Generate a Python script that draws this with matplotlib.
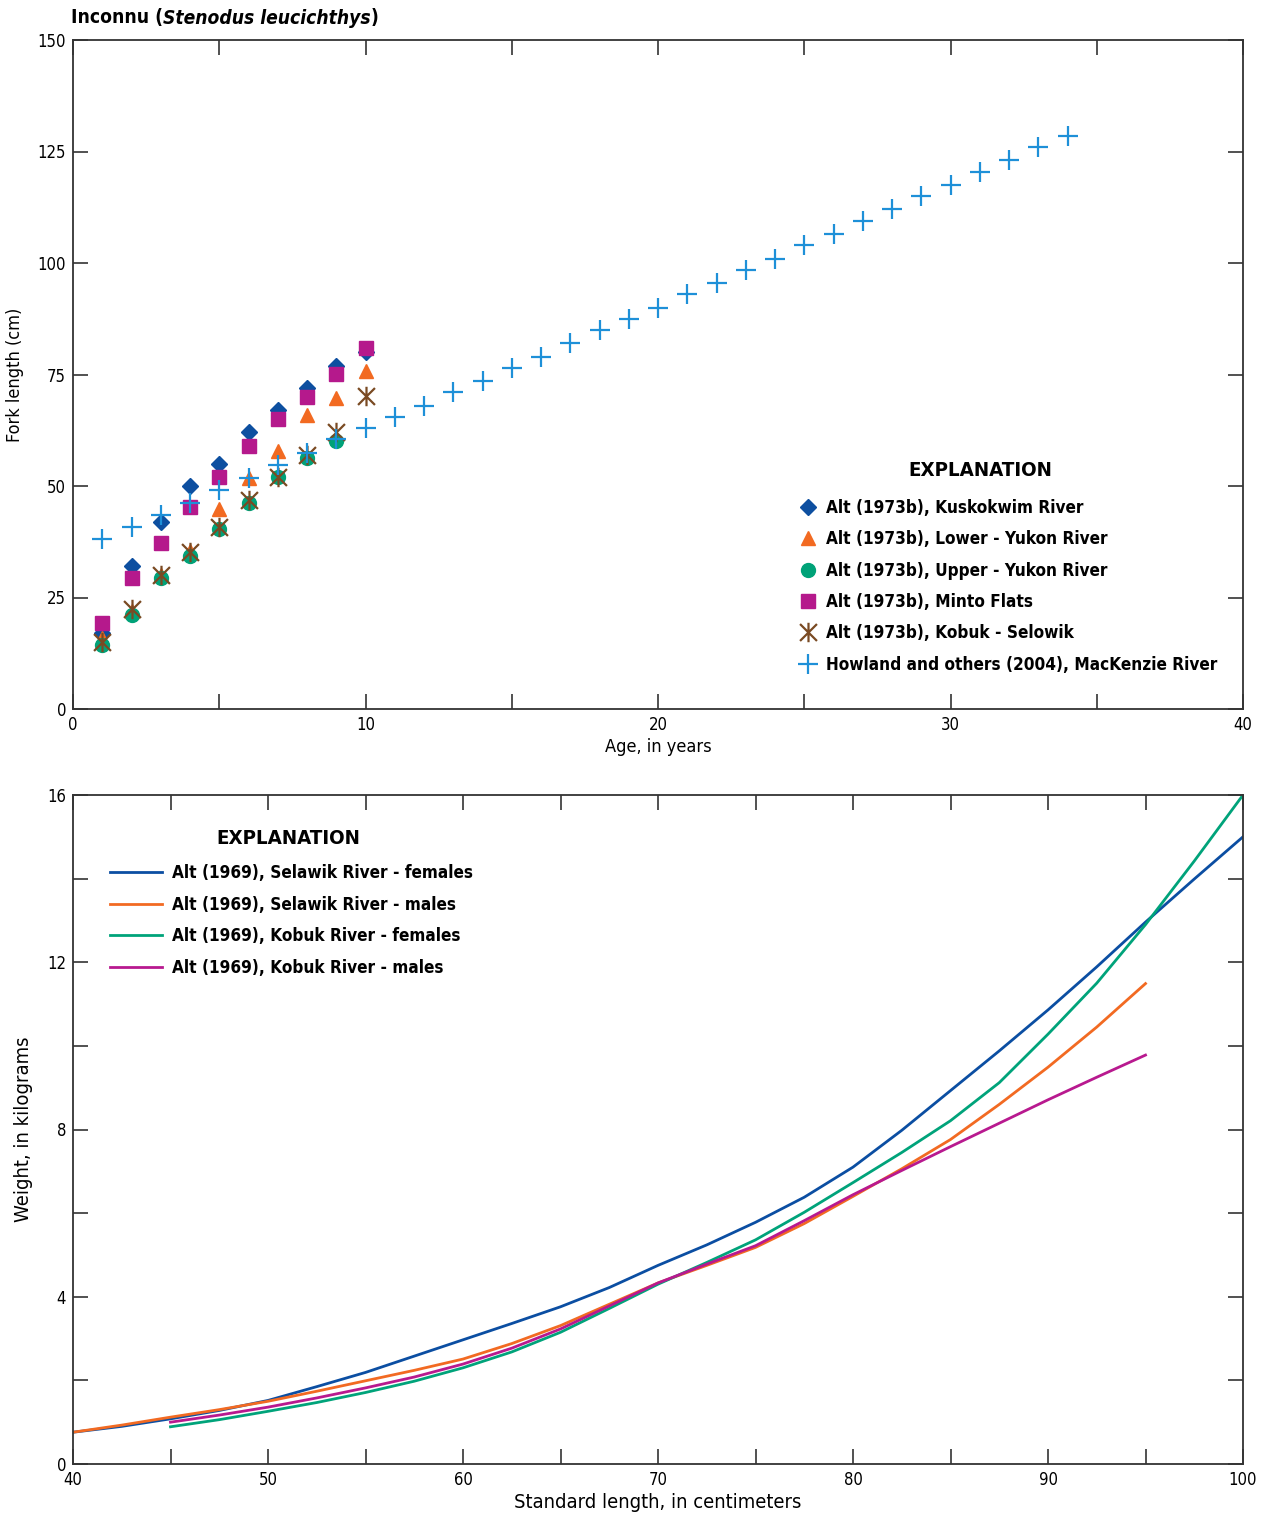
import matplotlib
matplotlib.use("Agg")
import matplotlib.pyplot as plt
from matplotlib import font_manager
from matplotlib.path import Path
from matplotlib.ticker import MultipleLocator

# pick a narrow face if one is installed
fonts = font_manager.fontManager.ttflist
names = {f.name for f in fonts}
if 'Liberation Sans Narrow' in names:
    plt.rcParams['font.family'] = ['Liberation Sans Narrow', 'DejaVu Sans']
    scale = 1.08
elif any(f.name == 'DejaVu Sans' and f.stretch == 'condensed' for f in fonts):
    plt.rcParams['font.family'] = ['DejaVu Sans']
    plt.rcParams['font.stretch'] = 'condensed'
    scale = 1.0
else:
    plt.rcParams['font.family'] = ['Liberation Sans', 'DejaVu Sans']
    scale = 0.95

# ---- top panel: fork length at age ----
ages = [1, 2, 3, 4, 5, 6, 7, 8, 9, 10]
kuskokwim = [17, 32, 42, 50, 55, 62, 67, 72, 77, 80]
lower_yukon = [16, 22, 30, 35.5, 44.8, 51.8, 57.8, 65.9, 69.8, 75.8]
upper_yukon = [14.3, 21, 29.4, 34.2, 40.4, 46.2, 52, 56.2, 60]
minto = [19.3, 29.4, 37.2, 45.3, 52, 59, 65, 70, 75.2, 81]
kobuk_selawik = [15.1, 22.4, 30, 35.3, 40.9, 46.9, 52, 57, 62.2, 70.2]

mack_ages = list(range(1, 35))
mackenzie = [38.2, 40.9, 43.6, 46.3, 49.1, 51.9, 54.6, 57.3, 60.6, 62.9,
             65.5, 68, 71, 73.5, 76.5, 79, 82, 85, 87.5, 90,
             93, 95.5, 98.5, 101, 104, 106.5, 109.5, 112, 115, 117.5,
             120.5, 123, 126, 128.5]

# ---- bottom panel: length-weight curves ----
len_a = [40, 42.5, 45, 47.5, 50, 52.5, 55, 57.5, 60, 62.5, 65, 67.5, 70,
         72.5, 75, 77.5, 80, 82.5, 85, 87.5, 90, 92.5, 95, 97.5, 100]
selawik_f = [0.76, 0.9, 1.08, 1.28, 1.52, 1.85, 2.19, 2.58, 2.97, 3.36, 3.76, 4.22, 4.75,
             5.24, 5.78, 6.38, 7.1, 7.98, 8.93, 9.88, 10.86, 11.89, 12.96, 13.99, 15.0]
kobuk_f_len = [45, 47.5, 50, 52.5, 55, 57.5, 60, 62.5, 65, 67.5, 70,
               72.5, 75, 77.5, 80, 82.5, 85, 87.5, 90, 92.5, 95, 97.5, 100]
kobuk_f = [0.89, 1.06, 1.26, 1.47, 1.71, 1.98, 2.30, 2.68, 3.15, 3.72, 4.3,
           4.82, 5.36, 6.02, 6.73, 7.45, 8.21, 9.12, 10.28, 11.5, 12.9, 14.42, 16.0]
selawik_m_len = [40, 42.5, 45, 47.5, 50, 52.5, 55, 57.5, 60, 62.5, 65, 67.5, 70,
                 72.5, 75, 77.5, 80, 82.5, 85, 87.5, 90, 92.5, 95]
selawik_m = [0.76, 0.93, 1.12, 1.3, 1.5, 1.74, 1.99, 2.24, 2.51, 2.88, 3.31, 3.82, 4.33,
             4.75, 5.18, 5.75, 6.40, 7.06, 7.76, 8.6, 9.49, 10.45, 11.49]
kobuk_m_len = [45, 47.5, 50, 52.5, 55, 57.5, 60, 62.5, 65, 67.5, 70,
               72.5, 75, 77.5, 80, 82.5, 85, 87.5, 90, 92.5, 95]
kobuk_m = [1.0, 1.17, 1.36, 1.58, 1.82, 2.08, 2.39, 2.77, 3.23, 3.78, 4.33,
           4.78, 5.22, 5.82, 6.44, 7.02, 7.59, 8.15, 8.71, 9.25, 9.78]

# asterisk-like marker: X plus vertical bar
star_x = Path([(-1, -1), (1, 1), (-1, 1), (1, -1), (0, -1.15), (0, 1.15)],
              [Path.MOVETO, Path.LINETO, Path.MOVETO, Path.LINETO, Path.MOVETO, Path.LINETO])

W, H = 1266, 1519
fig = plt.figure(figsize=(W / 100, H / 100), dpi=100)
ax1 = fig.add_axes([73 / W, 1 - 709 / H, 1170 / W, 669 / H])
ax2 = fig.add_axes([73 / W, 1 - 1464 / H, 1170 / W, 669 / H])

leg_fs = 12.3 * scale
head_fs = 14.7 * scale

ax1.plot(ages, kuskokwim, 'D', color='#0d4fa0', ms=8, ls='none', label='Alt (1973b), Kuskokwim River')
ax1.plot(ages, lower_yukon, '^', color='#f26a21', ms=10, ls='none', label='Alt (1973b), Lower - Yukon River')
ax1.plot(ages[:9], upper_yukon, 'o', color='#00a278', ms=10, ls='none', label='Alt (1973b), Upper - Yukon River')
ax1.plot(ages, minto, 's', color='#b5198c', ms=10.5, ls='none', label='Alt (1973b), Minto Flats')
ax1.plot(ages, kobuk_selawik, marker=star_x, color='#7a4a23', ms=14, mew=1.6, ls='none',
         fillstyle='none', label='Alt (1973b), Kobuk - Selowik')
ax1.plot(mack_ages, mackenzie, '+', color='#1e90d8', ms=14, mew=1.6, ls='none',
         label='Howland and others (2004), MacKenzie River')

ax1.set_xlim(0, 40)
ax1.set_ylim(0, 150)
ax1.xaxis.set_major_locator(MultipleLocator(10))
ax1.xaxis.set_minor_locator(MultipleLocator(5))
ax1.yaxis.set_major_locator(MultipleLocator(25))
ax1.set_xlabel('Age, in years', fontsize=13 * scale, labelpad=3)
ax1.set_ylabel('Fork length (cm)', fontsize=13 * scale, labelpad=10)

fig.text(980 / W, 1 - 470 / H, 'EXPLANATION', fontsize=head_fs, fontweight='bold',
         ha='center', va='center')
ax1.legend(loc='upper left', bbox_to_anchor=(798 / W, 1 - 499 / H), bbox_transform=fig.transFigure,
           frameon=False, borderpad=0, borderaxespad=0, prop={'weight': 'bold', 'size': leg_fs},
           handletextpad=0.45, labelspacing=0.78, handlelength=1.2)

ax2.plot(len_a, selawik_f, color='#0b4ea2', lw=2, label='Alt (1969), Selawik River - females')
ax2.plot(selawik_m_len, selawik_m, color='#f26a22', lw=2, label='Alt (1969), Selawik River - males')
ax2.plot(kobuk_f_len, kobuk_f, color='#00a37a', lw=2, label='Alt (1969), Kobuk River - females')
ax2.plot(kobuk_m_len, kobuk_m, color='#b8198f', lw=2, label='Alt (1969), Kobuk River - males')

ax2.set_xlim(40, 100)
ax2.set_ylim(0, 16)
ax2.xaxis.set_major_locator(MultipleLocator(10))
ax2.xaxis.set_minor_locator(MultipleLocator(5))
ax2.yaxis.set_major_locator(MultipleLocator(4))
ax2.yaxis.set_minor_locator(MultipleLocator(2))
ax2.set_xlabel('Standard length, in centimeters', fontsize=14.5 * scale, labelpad=3)
ax2.set_ylabel('Weight, in kilograms', fontsize=14.5 * scale, labelpad=10)

fig.text(288 / W, 1 - 838 / H, 'EXPLANATION', fontsize=head_fs, fontweight='bold',
         ha='center', va='center')
ax2.legend(loc='upper left', bbox_to_anchor=(110 / W, 1 - 864 / H), bbox_transform=fig.transFigure,
           frameon=False, borderpad=0, borderaxespad=0, prop={'weight': 'bold', 'size': leg_fs},
           handletextpad=0.6, labelspacing=0.8, handlelength=3.05)

for ax in (ax1, ax2):
    for sp in ax.spines.values():
        sp.set_color('#333333')
        sp.set_linewidth(1.3)
    ax.tick_params(which='both', direction='in', top=True, right=True,
                   length=11, width=1.2, color='#333333', labelsize=12 * scale, pad=5)

# title with italic species name
ty = 1 - 18 / H
title_fs = 13.8 * scale
t1 = fig.text(71 / W, ty, 'Inconnu (', fontsize=title_fs, fontweight='bold', va='center')
fig.canvas.draw()
r = fig.canvas.get_renderer()
bb = t1.get_window_extent(r)
t2 = fig.text(bb.x1 / W, ty, 'Stenodus leucichthys', fontsize=title_fs,
              fontweight='bold', fontstyle='italic', va='center')
bb2 = t2.get_window_extent(r)
fig.text(bb2.x1 / W, ty, ')', fontsize=title_fs, fontweight='bold', va='center')

fig.savefig('out.png', dpi=100)
